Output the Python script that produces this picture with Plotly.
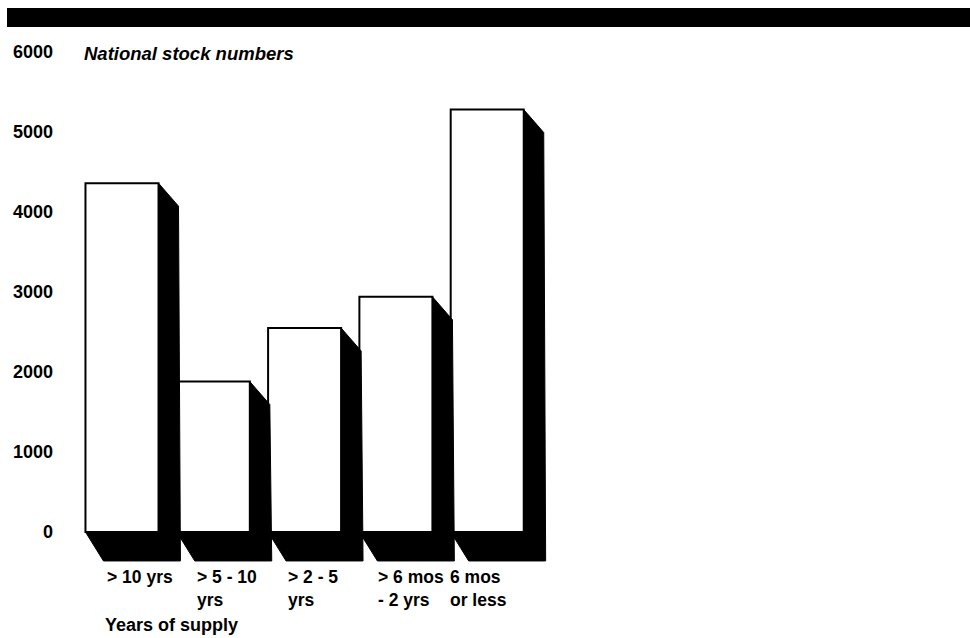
import plotly.graph_objects as go

# ---- data ----
categories = ["> 10 yrs<br>", "> 5 - 10<br>yrs", "> 2 - 5<br>yrs", "> 6 mos<br>- 2 yrs", "6 mos<br>or less"]
stock_numbers = [4360, 1880, 2550, 2940, 5280]
y_tick_values = [0, 1000, 2000, 3000, 4000, 5000, 6000]
y_tick_labels = ["0", "1000", "2000", "3000", "4000", "5000", "6000"]

# ---- styling / geometry constants (axis units) ----
BAR_W = 0.8
X_RANGE = [-0.679, 9.178]
Y_RANGE = [-475, 6000]
D_TOP_X, D_TOP_Y = 0.219, 287      # shadow offset at top-right corner
D_BL_X, D_BL_Y = 0.197, 362        # shadow offset at bottom-left corner
D_BR_X = 0.24                      # shadow right edge at bottom
LABEL_SHIFT = [-0.19, -0.2, -0.2, -0.22, -0.43]
FONT = "Liberation Sans, Arial, sans-serif"

xs = list(range(len(categories)))

# shadow polygons (L-shaped extrusion behind each face)
sx, sy = [], []
for i, v in zip(xs, stock_numbers):
    x0, x1 = i - BAR_W / 2, i + BAR_W / 2
    pts = [(x0, 0), (x0 + D_BL_X, -D_BL_Y), (x1 + D_BR_X, -D_BL_Y),
           (x1 + D_TOP_X, v - D_TOP_Y), (x1, v), (x1, 0), (x0, 0)]
    sx += [p[0] for p in pts] + [None]
    sy += [p[1] for p in pts] + [None]

fig = go.Figure()
fig.add_trace(go.Bar(
    x=xs, y=stock_numbers, width=BAR_W,
    marker=dict(color="white", line=dict(color="black", width=2)),
    hoverinfo="skip", showlegend=False,
))
fig.add_trace(go.Scatter(
    x=sx, y=sy, mode="lines", fill="toself", fillcolor="black",
    line=dict(color="black", width=1), hoverinfo="skip", showlegend=False,
))

annotations = []
for i, (lab, sh) in enumerate(zip(categories, LABEL_SHIFT)):
    annotations.append(dict(
        x=i + sh, xref="x", y=0.0097, yref="paper", text=lab,
        xanchor="left", yanchor="top", align="left", showarrow=False,
        font=dict(family=FONT, size=17.5, color="black", weight="bold"),
    ))
annotations.append(dict(
    x=(103 - 60) / 900, xref="paper", y=-0.106, yref="paper",
    text="Years of supply", xanchor="left", yanchor="middle", showarrow=False,
    font=dict(family=FONT, size=18, color="black", weight="bold"),
))
annotations.append(dict(
    x=(82 - 60) / 900, xref="paper", y=0.998, yref="paper",
    text="National stock numbers", xanchor="left", yanchor="middle", showarrow=False,
    font=dict(family=FONT, size=18.5, color="black", weight="bold", style="italic"),
))

fig.update_layout(
    width=970, height=638,
    margin=dict(l=60, r=10, t=52, b=68),
    paper_bgcolor="white", plot_bgcolor="white",
    barmode="overlay",
    annotations=annotations,
    shapes=[dict(type="rect", xref="paper", yref="paper",
                 x0=(7 - 60) / 900, x1=(970 - 60) / 900,
                 y0=1 + (52 - 27) / 518, y1=1 + (52 - 8) / 518,
                 fillcolor="black", line=dict(width=0), layer="above")],
    xaxis=dict(range=X_RANGE, showgrid=False, zeroline=False, showline=False,
               showticklabels=False, ticks=""),
    yaxis=dict(range=Y_RANGE, showgrid=False, zeroline=False, showline=False,
               tickmode="array", tickvals=y_tick_values, ticktext=y_tick_labels,
               ticks="", ticklabelstandoff=6,
               tickfont=dict(family=FONT, size=18, color="black", weight="bold")),
)

fig.write_html("out.html", config={"displayModeBar": False},
               post_script="document.body.style.margin='0px';document.body.style.overflow='hidden';")
